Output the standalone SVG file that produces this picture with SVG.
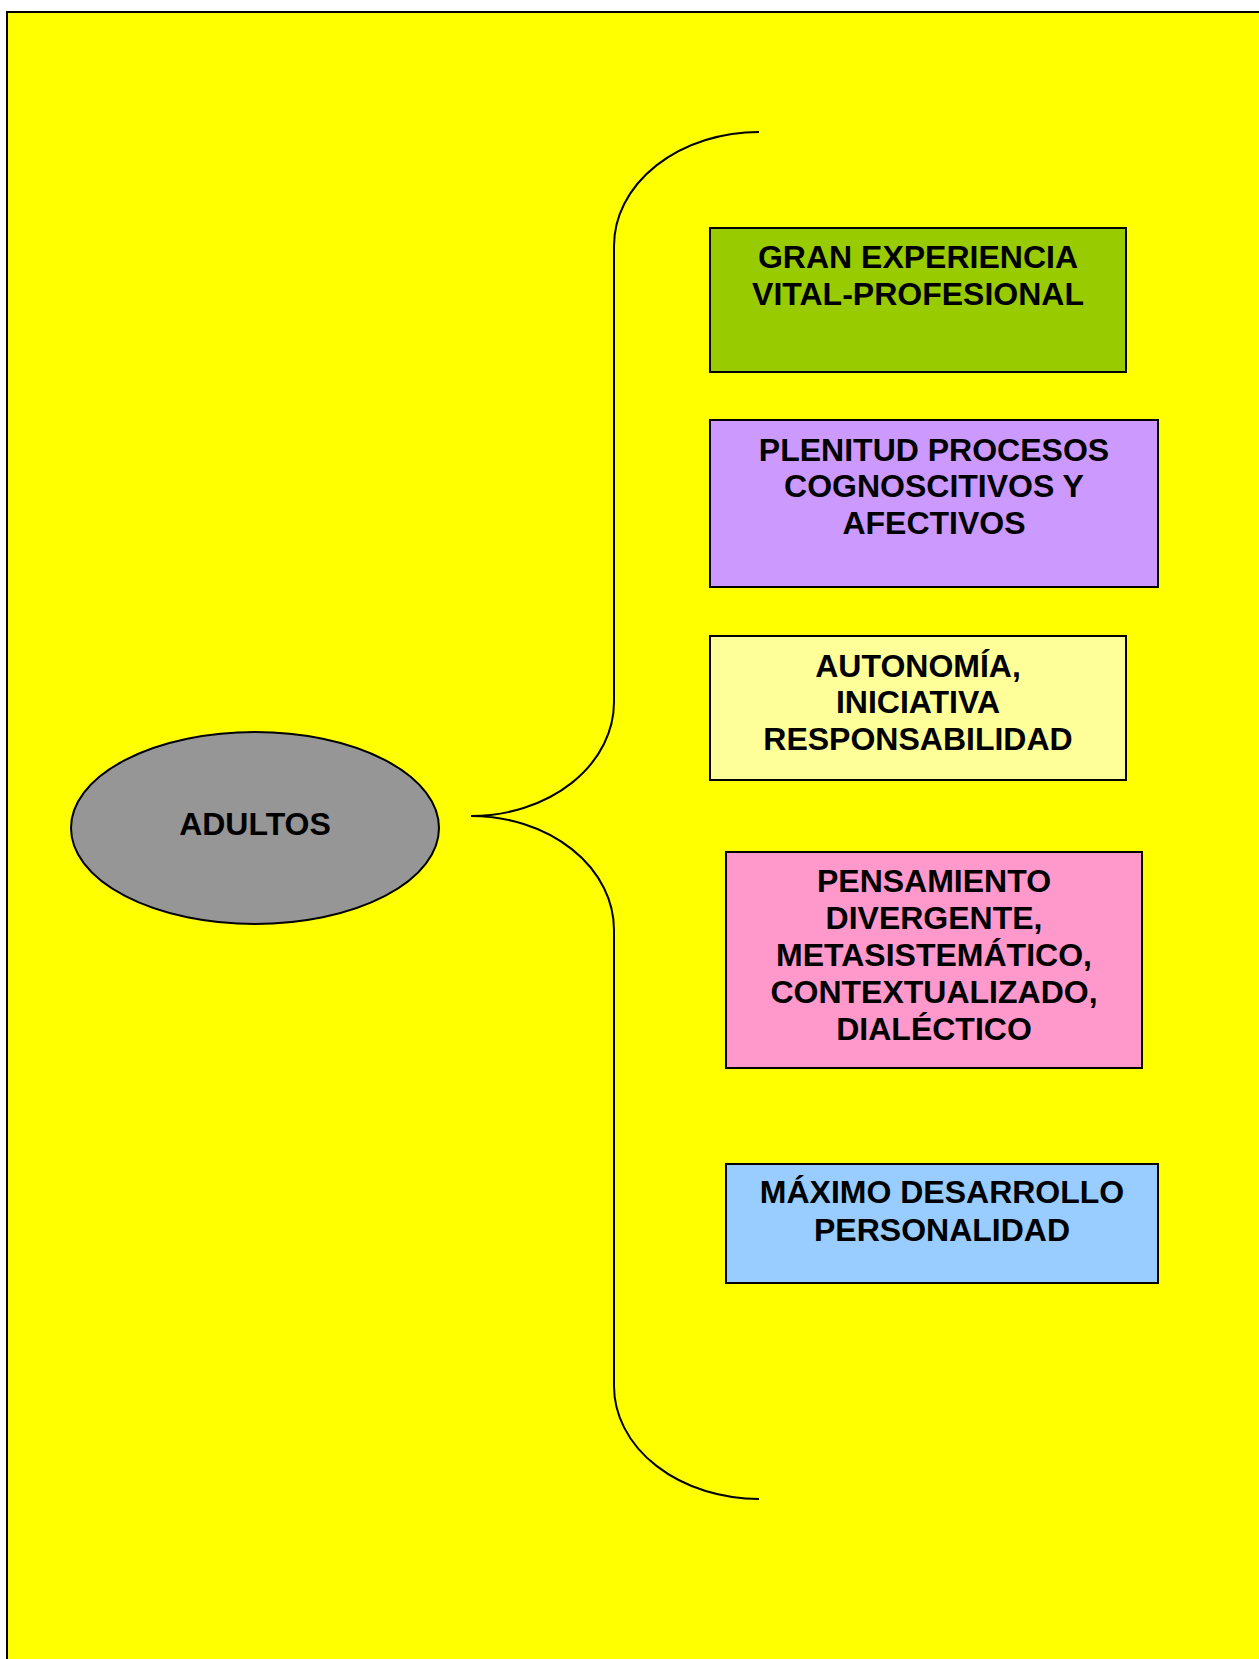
<svg xmlns="http://www.w3.org/2000/svg" width="1259" height="1659" viewBox="0 0 1259 1659">
  <style>
    .box { stroke: #000; stroke-width: 2; }
    .lbl { font-family: "Liberation Sans", Arial, sans-serif; font-weight: bold; font-size: 32px; fill: #000; text-anchor: middle; }
    .conn { fill: none; stroke: #000; stroke-width: 2; }
  </style>

  <!-- page background -->
  <rect x="0" y="0" width="1259" height="1659" fill="#ffffff"/>
  <rect x="7" y="12" width="1262" height="1662" fill="#ffff00" stroke="#000" stroke-width="2"/>

  <!-- brace connecting the central ellipse to the list of traits -->
  <g id="connectors">
    <path class="conn" d="M 759 132 A 145 114 0 0 0 614 246 L 614 702 A 143 114 0 0 1 471 816 A 143 114 0 0 1 614 930 L 614 1386 A 145 113 0 0 0 759 1499"/>
  </g>

  <g id="adultos">
    <ellipse class="box" cx="255" cy="828" rx="184" ry="96" fill="#969696"/>
    <text class="lbl" x="255" y="835">ADULTOS</text>
  </g>

  <g id="experiencia">
    <rect class="box" x="710" y="228" width="416" height="144" fill="#99cc00"/>
    <text class="lbl" x="918" y="268">GRAN EXPERIENCIA</text>
    <text class="lbl" x="918" y="305">VITAL-PROFESIONAL</text>
  </g>

  <g id="plenitud">
    <rect class="box" x="710" y="420" width="448" height="167" fill="#cc99ff"/>
    <text class="lbl" x="934" y="461">PLENITUD PROCESOS</text>
    <text class="lbl" x="934" y="497">COGNOSCITIVOS Y</text>
    <text class="lbl" x="934" y="534">AFECTIVOS</text>
  </g>

  <g id="autonomia">
    <rect class="box" x="710" y="636" width="416" height="144" fill="#ffff99"/>
    <text class="lbl" x="918" y="677">AUTONOMÍA,</text>
    <text class="lbl" x="918" y="713">INICIATIVA</text>
    <text class="lbl" x="918" y="750">RESPONSABILIDAD</text>
  </g>

  <g id="pensamiento">
    <rect class="box" x="726" y="852" width="416" height="216" fill="#ff99cc"/>
    <text class="lbl" x="934" y="892">PENSAMIENTO</text>
    <text class="lbl" x="934" y="929">DIVERGENTE,</text>
    <text class="lbl" x="934" y="966">METASISTEMÁTICO,</text>
    <text class="lbl" x="934" y="1003">CONTEXTUALIZADO,</text>
    <text class="lbl" x="934" y="1040">DIALÉCTICO</text>
  </g>

  <g id="desarrollo">
    <rect class="box" x="726" y="1164" width="432" height="119" fill="#99ccff"/>
    <text class="lbl" x="942" y="1203">MÁXIMO DESARROLLO</text>
    <text class="lbl" x="942" y="1241">PERSONALIDAD</text>
  </g>
</svg>
